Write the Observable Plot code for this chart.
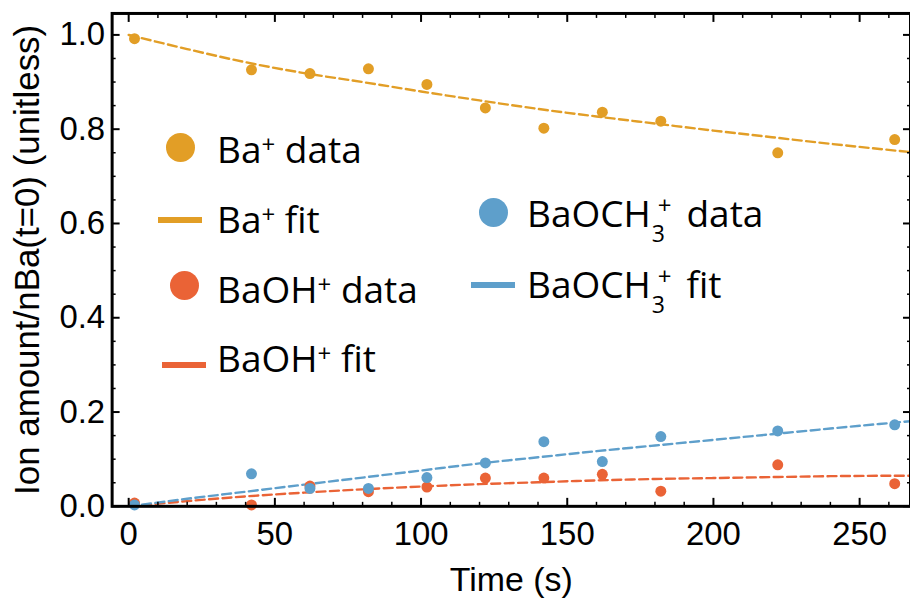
<!DOCTYPE html>
<html><head><meta charset="utf-8">
<script src="https://cdn.jsdelivr.net/npm/d3@7"></script>
<script src="https://cdn.jsdelivr.net/npm/@observablehq/plot@0.6"></script>
<style>
html,body{margin:0;padding:0;background:#fff;overflow:hidden;}
#wrap{position:relative;width:910px;height:603px;overflow:hidden;}
#wrap svg{position:absolute;left:0;top:0;}
.lt{position:absolute;font-family:"Open Sans";font-size:37px;line-height:1;color:#000;white-space:nowrap;}
.lt sup{font-size:24px;vertical-align:10px;line-height:0;}
.ss{display:inline-block;position:relative;width:26px;height:1px;}
.ss .sp{position:absolute;left:7px;top:-33px;font-size:24px;line-height:1;}
.ss .sb{position:absolute;left:1px;top:-4px;font-size:23px;line-height:1;}
.mk{position:absolute;border-radius:50%;}
.ln{position:absolute;height:6px;}
</style></head>
<body><div id="wrap"></div>
<script>
const times = [2, 42, 62, 82, 102, 122, 142, 162, 182, 222, 262];
const baData = [0.992, 0.926, 0.918, 0.928, 0.895, 0.845, 0.802, 0.836, 0.817, 0.750, 0.778];
const baohData = [0.007, 0.003, 0.043, 0.031, 0.041, 0.060, 0.060, 0.068, 0.032, 0.088, 0.048];
const baoch3Data = [0.003, 0.069, 0.038, 0.038, 0.061, 0.092, 0.137, 0.095, 0.148, 0.160, 0.173];
const fitTimes = [0, 20, 40, 60, 80, 100, 120, 140, 160, 180, 200, 220, 240, 268];
const baFit = [1.0, 0.970, 0.942, 0.919, 0.900, 0.880, 0.861, 0.843, 0.827, 0.812, 0.797, 0.783, 0.769, 0.751];
const baohFit = [0, 0.011, 0.021, 0.029, 0.036, 0.042, 0.047, 0.051, 0.055, 0.058, 0.060, 0.062, 0.064, 0.065];
const baoch3Fit = [0, 0.016, 0.031, 0.046, 0.061, 0.076, 0.091, 0.104, 0.117, 0.129, 0.141, 0.153, 0.165, 0.181];
const seriesNames = ["Ba+", "BaOH+", "BaOCH3+"];
const seriesColors = ["#E29E26", "#EA6336", "#5E9FCB"];
const xMajor = [0, 50, 100, 150, 200, 250];
const xMinor = d3.range(-0, 267, 10).filter(v => v % 50 !== 0);
const yMajor = [0, 0.2, 0.4, 0.6, 0.8, 1.0];
const yMinor = [0.05,0.1,0.15,0.25,0.3,0.35,0.45,0.5,0.55,0.65,0.7,0.75,0.85,0.9,0.95];
const xLabel = "Time (s)";
const yLabel = "Ion amount/nBa(t=0) (unitless)";

const dataArrs = [baData, baohData, baoch3Data];
const fitArrs = [baFit, baohFit, baoch3Fit];
const pts = seriesNames.flatMap((s, k) => times.map((t, i) => ({t, v: dataArrs[k][i], s})));
const fits = seriesNames.flatMap((s, k) => fitTimes.map((t, i) => ({t, v: fitArrs[k][i], s})));

const F = {fontFamily: "Liberation Sans, Arial, sans-serif", fontSize: 33};
const noText = () => "";
const plot = Plot.plot({
  width: 913, height: 603,
  marginLeft: 112, marginRight: 0, marginTop: 13, marginBottom: 95.5,
  x: {domain: [-5.66, 267.4]},
  y: {domain: [0, 1.0455]},
  color: {domain: seriesNames, range: seriesColors},
  style: {background: "transparent", color: "#000"},
  marks: [
    Plot.line(fits, {x: "t", y: "v", z: "s", stroke: "s", strokeWidth: 2.4, strokeDasharray: "9,4.5", curve: "monotone-x", clip: true}),
    Plot.dot(pts, {x: "t", y: "v", fill: "s", r: 5.5}),
    Plot.axisX(xMajor, {anchor: "bottom", tickSize: -8, tickPadding: 23, strokeWidth: 2, label: null, ...F}),
    Plot.axisX(xMinor, {anchor: "bottom", tickSize: -4, strokeWidth: 1.5, label: null, tickFormat: noText}),
    Plot.axisX(xMajor, {anchor: "top", tickSize: -8, strokeWidth: 2, label: null, tickFormat: noText}),
    Plot.axisX(xMinor, {anchor: "top", tickSize: -4, strokeWidth: 1.5, label: null, tickFormat: noText}),
    Plot.axisY(yMajor, {anchor: "left", tickSize: -8, tickPadding: 15, strokeWidth: 2, label: null, tickFormat: d3.format(".1f"), ...F}),
    Plot.axisY(yMinor, {anchor: "left", tickSize: -4, strokeWidth: 1.5, label: null, tickFormat: noText}),
    Plot.axisY(yMajor, {anchor: "right", tickSize: -8, strokeWidth: 2, label: null, tickFormat: noText}),
    Plot.axisY(yMinor, {anchor: "right", tickSize: -4, strokeWidth: 1.5, label: null, tickFormat: noText}),
    Plot.frame({stroke: "#000", strokeWidth: 3}),
    Plot.text([yLabel], {frameAnchor: "left", dx: -85, rotate: -90, textAnchor: "middle", lineAnchor: "middle", text: d => d, ...F, fontSize: 35}),
    Plot.text([xLabel], {frameAnchor: "bottom", dy: 74, textAnchor: "middle", lineAnchor: "middle", text: d => d, ...F, fontSize: 34})
  ]
});
const wrap = document.getElementById("wrap");
wrap.appendChild(plot);

// legend (HTML overlay)
const legendItems = [
  {kind: "dot", c: 0, cx: 180.5, cy: 147.5, tx: 217, base: 162.7, html: "Ba<sup>+</sup> data"},
  {kind: "line", c: 0, x1: 158, x2: 202, cy: 220, tx: 217, base: 232.7, html: "Ba<sup>+</sup> fit"},
  {kind: "dot", c: 1, cx: 184.5, cy: 285.8, tx: 217, base: 302.7, html: "BaOH<sup>+</sup> data"},
  {kind: "line", c: 1, x1: 162, x2: 206, cy: 365, tx: 217, base: 371.7, html: "BaOH<sup>+</sup> fit"},
  {kind: "dot", c: 2, cx: 493.3, cy: 212.5, tx: 527, base: 226.7, html: 'BaOCH<span class="ss"><span class="sp">+</span><span class="sb">3</span></span> data'},
  {kind: "line", c: 2, x1: 471, x2: 515, cy: 285, tx: 527, base: 298.3, html: 'BaOCH<span class="ss"><span class="sp">+</span><span class="sb">3</span></span> fit'}
];
for (const it of legendItems) {
  const m = document.createElement("div");
  if (it.kind === "dot") {
    m.className = "mk";
    const r = 14.5;
    Object.assign(m.style, {left: (it.cx - r) + "px", top: (it.cy - r) + "px", width: 2*r + "px", height: 2*r + "px", background: seriesColors[it.c]});
  } else {
    m.className = "ln";
    Object.assign(m.style, {left: it.x1 + "px", top: (it.cy - 3) + "px", width: (it.x2 - it.x1) + "px", background: seriesColors[it.c]});
  }
  wrap.appendChild(m);
  const t = document.createElement("div");
  t.className = "lt";
  t.innerHTML = it.html;
  t.style.left = it.tx + "px";
  t.style.top = (it.base - 0.888 * 37) + "px";
  wrap.appendChild(t);
}
</script></body></html>
